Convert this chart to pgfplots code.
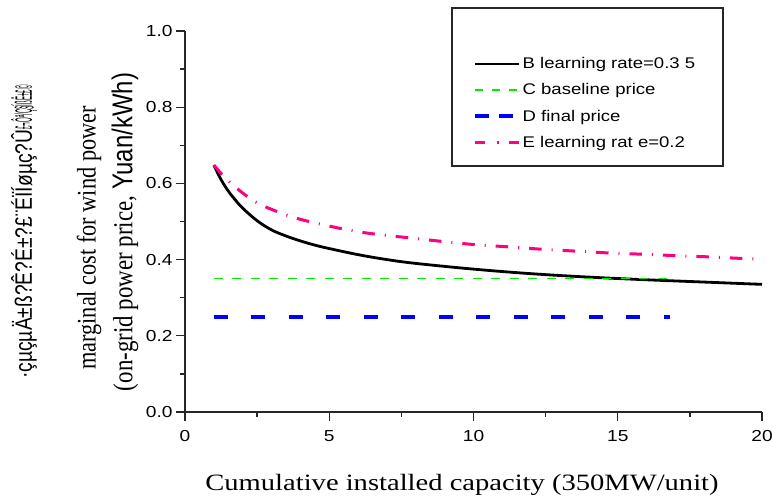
\documentclass[border=0pt]{standalone}
\usepackage{fontspec}
\setmainfont{Liberation Serif}
\newfontfamily\arialw[FakeStretch=1.2]{Liberation Sans}
\newfontfamily\arial{Liberation Sans}
\newfontfamily\timesw[FakeStretch=1.22]{Liberation Serif}
\usepackage{graphicx}
\usepackage{pgfplots}
\pgfplotsset{compat=1.18}
\definecolor{cgreen}{RGB}{0,235,0}
\definecolor{cblue}{RGB}{0,0,255}
\definecolor{cpink}{RGB}{255,0,128}
\newcommand{\tickfont}{\arialw\fontsize{16}{16}\selectfont}
\newcommand{\legfont}{\arialw\fontsize{15.5}{16}\selectfont}
\pgfplotsset{
  leggreen/.style={legend image code/.code={\draw[##1, dash pattern=on 8bp off 9bp] (0bp,0bp) -- (44bp,0bp);}},
  legblue/.style={legend image code/.code={\draw[##1, dash pattern=on 14bp off 10bp] (0bp,0bp) -- (38bp,0bp);}},
  legpink/.style={legend image code/.code={\draw[##1, dash pattern=on 10bp off 12bp on 2bp off 10bp] (0bp,0bp) -- (44bp,0bp);}},
}
\begin{document}
\begin{tikzpicture}[x=1bp,y=1bp]
\useasboundingbox (-185,-90) rectangle (588,412);
\begin{axis}[
  at={(0,0)}, anchor=south west,
  scale only axis, width=577bp, height=381bp,
  xmin=0, xmax=20, ymin=0, ymax=1,
  axis x line*=bottom, axis y line*=left,
  axis line style={-, line width=1.5bp, black!85},
  xtick={0,5,10,15,20}, minor xtick={2.5,7.5,12.5,17.5},
  ytick={0,0.2,0.4,0.6,0.8,1.0}, minor ytick={0.1,0.3,0.5,0.7,0.9},
  tick align=outside,
  major tick length=9bp, minor tick length=5bp,
  every tick/.style={black!85, line width=1.3bp},
  /pgf/number format/assume math mode=true,
  ticklabel style={font=\tickfont},
  yticklabel style={/pgf/number format/.cd, fixed, fixed zerofill, precision=1},
  xticklabel style={yshift=-6bp},
  legend style={draw=none, fill=none, at={(axis description cs:0.4991,0.936)}, anchor=north west,
    font=\legfont, row sep=9.5bp, inner sep=0pt, cells={anchor=west}},
  legend image code/.code={\draw[#1] (0bp,0bp) -- (44bp,0bp);},
]
\addplot[black, line width=2.8bp, smooth, tension=0.6] coordinates {
(1,0.648) (1.25,0.610) (1.5,0.580) (1.75,0.556) (2,0.535) (2.5,0.502) (3,0.478)
(3.5,0.462) (4,0.449) (4.5,0.438) (5,0.429) (6,0.413) (7,0.400) (8,0.390)
(10,0.375) (12,0.363) (14,0.354) (16,0.347) (18,0.341) (20,0.335)};
\addlegendentry{B learning rate=0.3 5}
\addplot[cgreen, line width=1.6bp, dash pattern=on 9bp off 9.5bp, leggreen] coordinates {(1,0.35) (16.8,0.35)};
\addlegendentry{C baseline price}
\addplot[cblue, line width=4bp, dash pattern=on 14bp off 23.5bp, legblue] coordinates {(1,0.25) (16.8,0.25)};
\addlegendentry{D final price}
\addplot[cpink, line width=3bp, dash pattern=on 12.5bp off 10bp on 1bp off 10bp, smooth, tension=0.6, legpink] coordinates {
(1,0.648) (1.3,0.622) (1.6,0.600) (2.1,0.569) (2.6,0.545) (3.3,0.523) (3.8,0.510)
(4.4,0.498) (5,0.488) (5.5,0.480) (6.1,0.472) (6.7,0.466) (7.9,0.456) (9,0.447)
(10.1,0.439) (11.3,0.433) (12.4,0.427) (13.6,0.422) (14.8,0.417) (15.9,0.414)
(17.1,0.410) (18.2,0.407) (19.3,0.403) (20,0.401)};
\addlegendentry{E learning rat e=0.2}
\end{axis}
\draw[line width=1.3bp, black!85] (267,404) rectangle (538,246);
\node[rotate=90, inner sep=0pt] at (-96,174) {\scalebox{1}[1.2]{\fontsize{22.4}{24}\selectfont marginal cost for wind power}};
\node[rotate=90, inner sep=0pt] at (-60,180) {\scalebox{1}[1.2]{\fontsize{23}{24}\selectfont (on-grid power price, {\arial\fontsize{24}{24}\selectfont Yuan/kWh)}}};
\node[rotate=90, inner sep=0pt] at (-161,180) {\scalebox{1}[1.7]{\arial\fontsize{14}{14}\selectfont \scalebox{1.38}[1]{·çµçµÄ±ß?Ê?É±?£¨ÉÏÍøµç?Û}\scalebox{0.44}[1]{£¬Ôª/Ç§ÍßÊ±£©}}};
\node[inner sep=0pt] at (277,-73) {\timesw\fontsize{23.5}{24}\selectfont Cumulative installed capacity (350MW/unit)};
\end{tikzpicture}
\end{document}
